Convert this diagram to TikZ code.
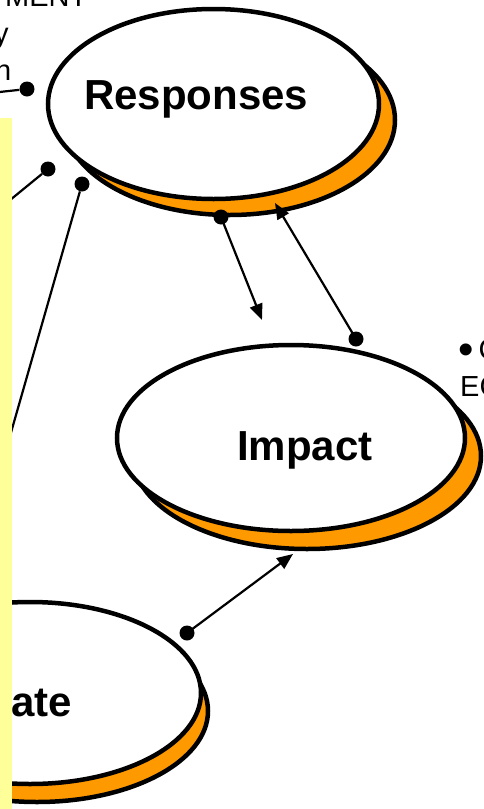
\documentclass[tikz,border=0pt]{standalone}
\usepackage{fontspec}
\setmainfont{Liberation Sans}
\usetikzlibrary{shapes.geometric,arrows.meta}
\definecolor{panelyellow}{HTML}{FFFF99}
\definecolor{shadoworange}{HTML}{FF9900}
\tikzset{
  bubble/.style={ellipse, draw=black, line width=4.5pt, fill=white, inner sep=0pt},
  bubbleshadow/.style={ellipse, draw=black, line width=4.5pt, fill=shadoworange, inner sep=0pt},
  bubbletext/.style={anchor=base west, inner sep=0pt, font=\fontsize{42}{48}\selectfont\bfseries},
  sidetext/.style={anchor=base west, inner sep=0pt, font=\fontsize{29}{35}\selectfont},
  dot/.style={circle, fill=black, inner sep=0pt, minimum size=15pt},
  link/.style={line width=2.2pt, draw=black},
  arrowlink/.style={link, -{Triangle[length=16pt,width=13pt]}}
}
\begin{document}
\begin{tikzpicture}[x=1pt,y=-1pt]
\useasboundingbox (0,0) rectangle (483,809);
% Responses
\node[bubbleshadow, minimum width=331pt, minimum height=190pt] (respShadow) at (229.5,120) {};
\node[bubble, minimum width=331pt, minimum height=190pt] (resp) at (213.5,104) {};
\node[bubbletext] (respText) at (84,109) {Responses};
% Impact
\node[bubbleshadow, minimum width=348pt, minimum height=186pt] (impShadow) at (307,456) {};
\node[bubble, minimum width=348pt, minimum height=186pt] (imp) at (291,438) {};
\node[bubbletext] (impText) at (237,460) {Impact};
% State (cropped)
\node[bubbleshadow, minimum width=342pt, minimum height=182pt] (stateShadow) at (37,711) {};
\node[bubble, minimum width=342pt, minimum height=182pt] (state) at (30,693) {};
\node[bubbletext] (stateText) at (11,716) {ate};
% connectors
\node[dot] (d1) at (27,89) {};
\coordinate (e1) at (-5,92.5);
\draw[link] (d1) -- (e1);
\node[dot] (d2) at (48,169) {};
\coordinate (e2) at (4,205);
\draw[link] (d2) -- (e2);
\node[dot] (d3) at (82,184) {};
\coordinate (e3) at (6,450);
\draw[link] (d3) -- (e3);
\node[dot] (d4) at (221,217) {};
\coordinate (e4) at (262,320);
\draw[arrowlink] (d4.center) -- (e4);
\node[dot] (d5) at (356,339) {};
\coordinate (e5) at (275,203);
\draw[arrowlink] (d5.center) -- (e5);
\node[dot] (d6) at (187,633) {};
\coordinate (e6) at (293,554);
\draw[arrowlink] (d6.center) -- (e6);
% yellow panel on top
\fill[panelyellow] (0,118) rectangle (12,809);
% cropped texts
\node[sidetext] (tMent) at (5,6) {MENT};
\node[sidetext] (tY) at (-6,43) {y};
\node[sidetext] (tN) at (-5,80) {n};
\node[sidetext] (tBullet) at (458,359) {{\fontsize{44}{44}\selectfont\raisebox{-0.12em}{•}}\hspace{5pt}C};
\node[sidetext] (tE) at (460,396) {EC};
\end{tikzpicture}
\end{document}
